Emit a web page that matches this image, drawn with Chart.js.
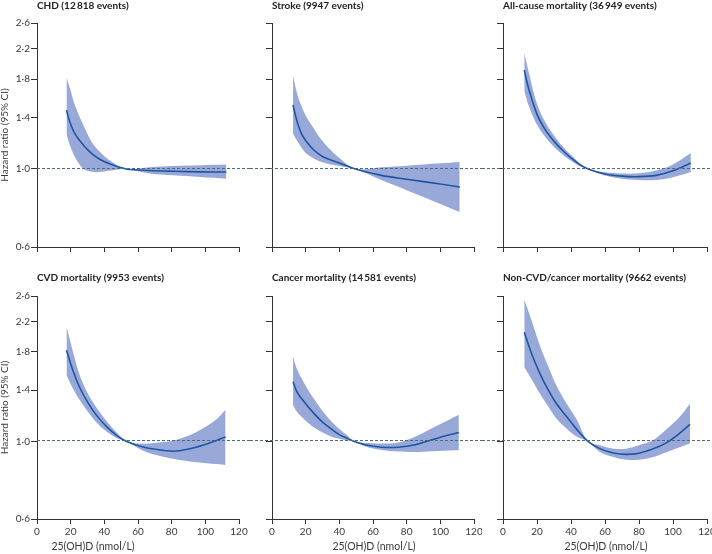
<!DOCTYPE html>
<html>
<head>
<meta charset="utf-8">
<title>25(OH)D and hazard ratios</title>
<script src="https://cdn.jsdelivr.net/npm/chart.js@4.4.1/dist/chart.umd.min.js"></script>
<style>
  html, body { margin: 0; padding: 0; background: #fff; }
  #page { position: relative; width: 712px; height: 554px; overflow: hidden; }
  #page canvas { position: absolute; }
</style>
</head>
<body>
<div id="page">
  <canvas id="chd" width="250" height="270" style="left:0;top:0"></canvas>
  <canvas id="stroke" width="232" height="270" style="left:250px;top:0"></canvas>
  <canvas id="allcause" width="230" height="270" style="left:482px;top:0"></canvas>
  <canvas id="cvd" width="250" height="284" style="left:0;top:270px"></canvas>
  <canvas id="cancer" width="232" height="284" style="left:250px;top:270px"></canvas>
  <canvas id="other" width="230" height="284" style="left:482px;top:270px"></canvas>
</div>
<script>
// tick values
const yTicks = [0.6, 1.0, 1.4, 1.8, 2.2, 2.6];
const xMin = 0, xMax = 120, xStep = 20;

// CHD
const chdX     = [17.5, 19.5, 22.5, 27.5, 32.5, 37.5, 43.5, 53, 67, 81, 97, 112.5];
const chdHr    = [1.47, 1.36, 1.26, 1.17, 1.106, 1.064, 1.033, 1.0, 0.99, 0.985, 0.981, 0.98];
const chdUpper = [1.82, 1.70, 1.52, 1.333, 1.194, 1.118, 1.055, 1.0, 1.012, 1.02, 1.025, 1.029];
const chdLower = [1.26, 1.169, 1.082, 1.002, 0.982, 0.98, 0.99, 1.0, 0.97, 0.959, 0.949, 0.938];

// Stroke
const strokeX     = [12.5, 15, 17.5, 20, 25, 30, 35, 40, 49.5, 65, 80, 100, 111.5];
const strokeHr    = [1.52, 1.36, 1.26, 1.205, 1.13, 1.085, 1.06, 1.04, 1.0, 0.959, 0.935, 0.906, 0.888];
const strokeUpper = [1.84, 1.63, 1.51, 1.42, 1.30, 1.20, 1.13, 1.075, 1.0, 1.011, 1.022, 1.038, 1.047];
const strokeLower = [1.26, 1.20, 1.15, 1.11, 1.07, 1.045, 1.03, 1.02, 1.0, 0.93, 0.87, 0.795, 0.754];

// All-cause mortality
const allX     = [12.5, 15, 20, 25, 30, 35, 40, 45, 50, 60, 70, 80, 90, 100, 110.5];
const allHr    = [1.91, 1.70, 1.43, 1.29, 1.20, 1.13, 1.075, 1.03, 1.0, 0.968, 0.954, 0.951, 0.959, 0.988, 1.04];
const allUpper = [2.14, 1.90, 1.53, 1.355, 1.245, 1.16, 1.095, 1.04, 1.0, 0.978, 0.97, 0.972, 0.99, 1.03, 1.11];
const allLower = [1.67, 1.52, 1.335, 1.23, 1.155, 1.10, 1.055, 1.02, 1.0, 0.958, 0.938, 0.93, 0.93, 0.947, 0.98];

// CVD mortality
const cvdX     = [17.5, 21.5, 25.5, 30.5, 35.5, 41.5, 47.5, 53, 63, 75, 83, 95, 107, 112];
const cvdHr    = [1.82, 1.585, 1.42, 1.283, 1.184, 1.10, 1.038, 1.0, 0.963, 0.942, 0.938, 0.963, 1.007, 1.029];
const cvdUpper = [2.13, 1.79, 1.54, 1.36, 1.245, 1.14, 1.058, 1.0, 0.985, 0.995, 1.01, 1.065, 1.16, 1.232];
const cvdLower = [1.55, 1.41, 1.31, 1.21, 1.13, 1.065, 1.02, 1.0, 0.94, 0.903, 0.888, 0.872, 0.861, 0.856];

// Cancer mortality
const cancerX     = [12.5, 15, 20, 25, 30, 35, 40, 45, 48.5, 55, 65, 75, 85, 95, 102.5, 111];
const cancerHr    = [1.48, 1.38, 1.28, 1.2, 1.135, 1.087, 1.045, 1.018, 1.0, 0.978, 0.962, 0.962, 0.978, 1.01, 1.035, 1.06];
const cancerUpper = [1.74, 1.60, 1.44, 1.32, 1.22, 1.143, 1.085, 1.037, 1.0, 0.99, 0.985, 0.992, 1.03, 1.09, 1.135, 1.19];
const cancerLower = [1.267, 1.21, 1.145, 1.095, 1.06, 1.033, 1.017, 1.006, 1.0, 0.968, 0.945, 0.935, 0.932, 0.937, 0.94, 0.943];

// Non-CVD/cancer mortality
const otherX     = [12.5, 17, 22, 27, 31.5, 37.5, 43.5, 50, 57, 65, 72.5, 80, 88, 96, 104, 110];
const otherHr    = [2.05, 1.77, 1.55, 1.39, 1.28, 1.175, 1.08, 1.0, 0.953, 0.926, 0.918, 0.925, 0.95, 0.99, 1.055, 1.118];
const otherUpper = [2.54, 2.2, 1.86, 1.62, 1.44, 1.28, 1.15, 1.0, 0.974, 0.953, 0.953, 0.975, 1.005, 1.08, 1.175, 1.28];
const otherLower = [1.63, 1.50, 1.36, 1.25, 1.16, 1.086, 1.03, 1.0, 0.932, 0.902, 0.886, 0.886, 0.9, 0.93, 0.962, 0.985];

const lineColor = "#1d56a3";
const bandColor = "#98a9d9";
const axisColor = "#333333";
const textColor = "#3a3a3a";
const fontFamily = "Lato, 'Open Sans', sans-serif";

function zip(xs, ys) {
  return xs.map((x, i) => ({ x: x, y: ys[i] }));
}

// dashed reference line at HR = 1, runs on to the canvas edge like the original
const refLine = {
  id: "refLine",
  afterDatasetsDraw(chart, args, opts) {
    const ctx = chart.ctx;
    const y = Math.round(chart.scales.y.getPixelForValue(1)) - 0.5;
    ctx.save();
    ctx.strokeStyle = "#4d6d76";
    ctx.lineWidth = 1;
    ctx.setLineDash([3, 2]);
    ctx.beginPath();
    ctx.moveTo(opts.fromAxis ? chart.chartArea.left : 0, y);
    ctx.lineTo(chart.width, y);
    ctx.stroke();
    ctx.restore();
  }
};

// x axis caption (the left one sits off-centre in the original)
const xCaption = {
  id: "xCaption",
  afterDraw(chart, args, opts) {
    if (!opts.text) return;
    const ctx = chart.ctx;
    const area = chart.chartArea;
    ctx.save();
    ctx.font = "10.5px " + fontFamily;
    ctx.fillStyle = textColor;
    ctx.textAlign = "center";
    ctx.textBaseline = "middle";
    ctx.fillText(opts.text, (area.left + area.right) / 2 + opts.shift, opts.y);
    ctx.restore();
  }
};

function makePanel(id, cfg) {
  const isLeft = cfg.col === 0;
  const isBottom = cfg.row === 1;
  const axisW = [37, 22, 21][cfg.col];
  const padRight = [11, 8, 5][cfg.col];

  return new Chart(document.getElementById(id), {
    type: "line",
    data: {
      datasets: [
        { data: zip(cfg.x, cfg.hr), borderColor: lineColor, borderWidth: 1.6, pointRadius: 0, fill: false },
        { data: zip(cfg.x, cfg.upper), borderWidth: 0, borderColor: bandColor, pointRadius: 0, backgroundColor: bandColor, fill: "+1" },
        { data: zip(cfg.x, cfg.lower), borderWidth: 0, borderColor: bandColor, pointRadius: 0, fill: false }
      ]
    },
    plugins: [refLine, xCaption],
    options: {
      responsive: false,
      animation: false,
      events: [],
      layout: { padding: { left: 0, right: padRight, top: isBottom ? 2 : 0, bottom: 0 } },
      elements: { line: { cubicInterpolationMode: "default", tension: 0.35 } },
      plugins: {
        legend: { display: false },
        tooltip: { enabled: false },
        title: {
          display: true,
          text: cfg.title,
          align: "start",
          fullSize: false,
          color: "#222",
          font: { family: fontFamily, size: 10, weight: "bold", lineHeight: 1.2 },
          padding: { top: 0, bottom: isBottom ? 12 : 11 }
        },
        refLine: { fromAxis: isLeft },
        xCaption: { text: isBottom ? "25(OH)D (nmol/L)" : "", shift: isLeft ? -45 : 1, y: 276.5 }
      },
      scales: {
        x: {
          type: "linear",
          min: xMin,
          max: xMax,
          ticks: { stepSize: xStep, display: isBottom, padding: 2, maxRotation: 0, color: textColor,
                   font: { family: fontFamily, size: 10 } },
          grid: { display: true, drawOnChartArea: false, drawTicks: true, tickLength: 5, color: axisColor },
          border: { display: true, color: axisColor, width: 1 },
          afterFit(s) { s.height = isBottom ? 35 : 23; s.paddingLeft = 0; s.paddingRight = 0; }
        },
        y: {
          type: "logarithmic",
          min: yTicks[0],
          max: yTicks[yTicks.length - 1],
          afterBuildTicks(s) { s.ticks = yTicks.map(v => ({ value: v })); },
          ticks: {
            display: isLeft,
            padding: 1,
            color: textColor,
            font: { family: fontFamily, size: 10 },
            callback: v => Number(v).toFixed(1).replace(".", "\u00B7")
          },
          grid: { display: true, drawOnChartArea: false, drawTicks: true, tickLength: 6, color: axisColor },
          border: { display: true, color: axisColor, width: 1 },
          title: {
            display: isLeft,
            text: "Hazard ratio (95% CI)",
            color: textColor,
            padding: 0,
            font: { family: fontFamily, size: 10, lineHeight: 1 }
          },
          afterFit(s) { s.width = axisW; s.paddingTop = 0; s.paddingBottom = 0; }
        }
      }
    }
  });
}

makePanel("chd",      { row: 0, col: 0, title: "CHD (12\u2009818 events)", x: chdX, hr: chdHr, upper: chdUpper, lower: chdLower });
makePanel("stroke",   { row: 0, col: 1, title: "Stroke (9947 events)", x: strokeX, hr: strokeHr, upper: strokeUpper, lower: strokeLower });
makePanel("allcause", { row: 0, col: 2, title: "All-cause mortality (36\u2009949 events)", x: allX, hr: allHr, upper: allUpper, lower: allLower });
makePanel("cvd",      { row: 1, col: 0, title: "CVD mortality (9953 events)", x: cvdX, hr: cvdHr, upper: cvdUpper, lower: cvdLower });
makePanel("cancer",   { row: 1, col: 1, title: "Cancer mortality (14\u2009581 events)", x: cancerX, hr: cancerHr, upper: cancerUpper, lower: cancerLower });
makePanel("other",    { row: 1, col: 2, title: "Non-CVD/cancer mortality (9662 events)", x: otherX, hr: otherHr, upper: otherUpper, lower: otherLower });
</script>
</body>
</html>
